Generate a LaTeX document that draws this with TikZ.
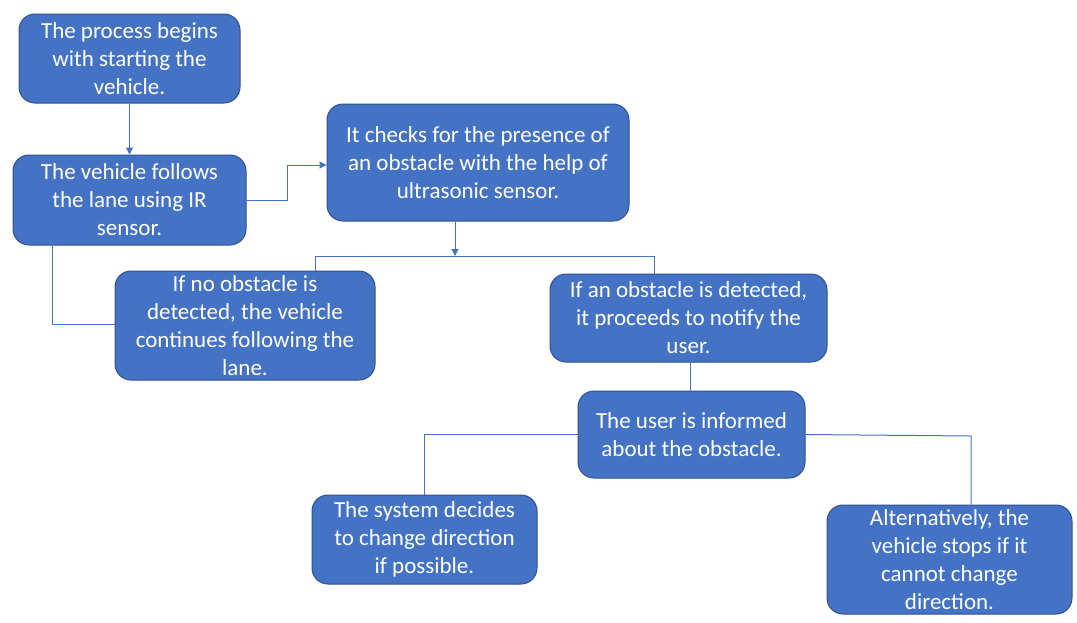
\documentclass[tikz,border=0pt]{standalone}
\usepackage{fontspec}
\setmainfont{Carlito}
\usetikzlibrary{arrows.meta}
\definecolor{boxblue}{HTML}{4472C4}
\definecolor{boxedge}{HTML}{2F528F}
\tikzset{
  box/.style={rectangle, rounded corners=16pt, fill=boxblue, draw=boxedge, line width=1pt,
    text=white, align=center, inner sep=0pt, font=\fontsize{23}{28}\selectfont},
  conn/.style={draw=boxblue, line width=1pt},
  arr/.style={conn, -{Triangle[length=7pt,width=7pt]}}
}
\begin{document}
\begin{tikzpicture}[x=1pt,y=-1pt]
\useasboundingbox[fill=white] (0,0) rectangle (1077,622);
\node[box, minimum width=221pt, minimum height=89pt] (b1) at (129.5,58.5) {The process begins\\with starting the\\vehicle.};
\node[box, minimum width=233pt, minimum height=90pt] (b2) at (129.5,200) {The vehicle follows\\the lane using IR\\sensor.};
\node[box, minimum width=302pt, minimum height=117pt] (b3) at (478,162.5) {It checks for the presence of\\an obstacle with the help of\\ultrasonic sensor.};
\node[box, minimum width=260pt, minimum height=109pt] (b4) at (245,325.5) {If no obstacle is\\detected, the vehicle\\continues following the\\lane.};
\node[box, minimum width=277pt, minimum height=88pt] (b5) at (688.5,318) {If an obstacle is detected,\\it proceeds to notify the\\user.};
\node[box, minimum width=227pt, minimum height=87pt] (b6) at (691.5,434.5) {The user is informed\\about the obstacle.};
\node[box, minimum width=225pt, minimum height=89pt] (b7) at (424.5,539.5) {The system decides\\to change direction\\if possible.};
\node[box, minimum width=245pt, minimum height=109pt] (b8) at (949.5,559.5) {Alternatively, the\\vehicle stops if it\\cannot change\\direction.};
% connectors
\draw[arr] (b1.south) -- (b2.north);
\coordinate (t) at (287,200);
\draw[arr] (b2.east) -- (t) |- ([yshift=-2.5pt]b3.west);
\coordinate (sp) at (455,256);
\draw[arr] (b3.south -| sp) -- (sp);
\coordinate (jl) at (315,256);
\coordinate (jr) at (654,256);
\draw[conn] (jl |- b4.north) -- (jl) -- (jr) -- (jr |- b5.north);
\coordinate (k) at (52,324);
\draw[conn] (b2.south -| k) -- (k) -- (k -| b4.west);
\coordinate (m) at (690,0);
\draw[conn] (b5.south -| m) -- (b6.north -| m);
\draw[conn] (b6.west) -| (b7.north);
\coordinate (q) at (971,436);
\draw[conn] (b6.east) -- (q) -- (q |- b8.north);
\end{tikzpicture}
\end{document}
